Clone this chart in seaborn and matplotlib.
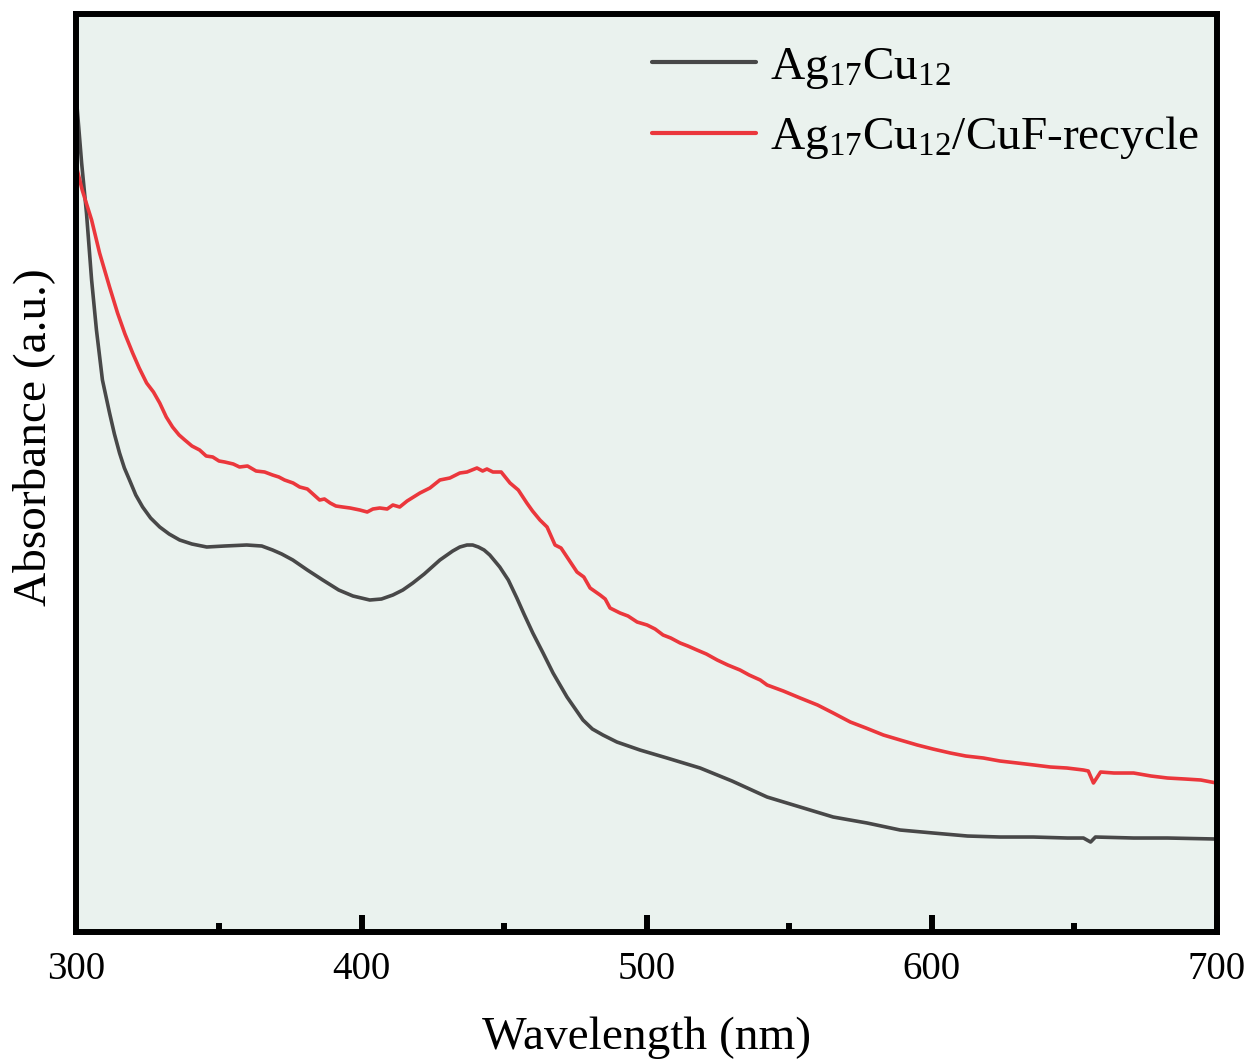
import numpy as np
import pandas as pd
import matplotlib
matplotlib.use("Agg")
import matplotlib.pyplot as plt
import seaborn as sns
from matplotlib.ticker import MultipleLocator

# UV-vis spectra (wavelength in nm, absorbance in arbitrary units)
wl_pristine = [300.0, 301.8, 303.5, 305.3, 307.0, 309.1, 311.6, 313.3, 315.1, 316.8,
               318.6, 320.8, 323.2, 326.0, 329.2, 332.5, 336.2, 340.5, 345.7, 352.0,
               359.7, 365.0, 368.8, 372.0, 375.9, 381.0, 386.4, 392.0, 397.0, 402.9,
               407.0, 411.0, 414.5, 418.0, 422.0, 427.5, 432.0, 434.5, 437.0, 439.0,
               441.0, 443.0, 445.0, 448.5, 451.5, 454.5, 457.0, 460.1, 463.7, 467.2,
               472.1, 477.7, 481.0, 484.7, 489.6, 497.7, 507.2, 518.8, 530.0, 542.3,
               553.9, 565.5, 577.4, 589.0, 600.6, 612.6, 624.1, 635.7, 647.7, 653.3,
               655.8, 657.5, 670.9, 682.8, 700.0]
abs_pristine = [8.32, 7.69, 7.19, 6.52, 6.02, 5.52, 5.19, 4.98, 4.79, 4.64,
                4.52, 4.37, 4.25, 4.14, 4.05, 3.98, 3.92, 3.88, 3.85, 3.86,
                3.87, 3.86, 3.82, 3.78, 3.72, 3.62, 3.52, 3.42, 3.36, 3.32,
                3.33, 3.37, 3.42, 3.49, 3.58, 3.72, 3.81, 3.85, 3.87, 3.87,
                3.85, 3.82, 3.77, 3.65, 3.52, 3.34, 3.18, 2.99, 2.79, 2.59,
                2.35, 2.12, 2.03, 1.97, 1.90, 1.82, 1.74, 1.64, 1.51, 1.35,
                1.25, 1.15, 1.09, 1.02, 0.99, 0.96, 0.95, 0.95, 0.94, 0.94,
                0.90, 0.95, 0.94, 0.94, 0.93]

wl_recycle = [300.0, 302.0, 305.3, 308.1, 311.6, 314.4, 317.0, 319.7, 322.0, 324.6,
              327.0, 329.2, 331.5, 333.7, 336.0, 338.0, 340.5, 343.2, 345.5, 347.8,
              350.0, 352.0, 355.0, 357.2, 360.0, 363.0, 366.0, 368.8, 371.0, 373.0,
              376.0, 378.3, 381.0, 385.3, 387.0, 389.0, 391.0, 393.4, 396.0, 399.4,
              402.0, 404.0, 406.4, 409.0, 411.0, 413.4, 416.0, 420.5, 424.0, 427.5,
              431.0, 434.5, 437.0, 440.5, 442.5, 444.0, 446.1, 449.0, 452.1, 455.0,
              458.0, 460.0, 462.6, 465.1, 467.9, 470.0, 472.1, 475.6, 478.0, 480.2,
              483.7, 485.5, 487.2, 490.7, 493.5, 496.7, 500.2, 503.0, 505.8, 508.5,
              511.8, 514.5, 517.7, 521.0, 524.8, 528.5, 532.8, 536.0, 539.9, 542.3,
              548.0, 553.9, 560.0, 565.5, 571.5, 577.0, 583.1, 589.0, 595.0, 600.5,
              606.6, 612.0, 618.2, 624.0, 630.1, 636.0, 641.7, 647.5, 653.3, 655.0,
              656.8, 659.3, 664.0, 670.9, 677.0, 682.8, 689.0, 694.5, 700.0]
abs_recycle = [7.65, 7.42, 7.12, 6.79, 6.45, 6.19, 5.98, 5.79, 5.64, 5.49,
               5.40, 5.29, 5.15, 5.05, 4.97, 4.92, 4.86, 4.82, 4.76, 4.75,
               4.71, 4.70, 4.68, 4.65, 4.66, 4.61, 4.60, 4.57, 4.55, 4.52,
               4.49, 4.45, 4.43, 4.32, 4.33, 4.29, 4.26, 4.25, 4.24, 4.22,
               4.20, 4.23, 4.24, 4.23, 4.27, 4.25, 4.31, 4.39, 4.44, 4.52,
               4.54, 4.59, 4.60, 4.64, 4.61, 4.63, 4.60, 4.60, 4.49, 4.42,
               4.29, 4.21, 4.12, 4.05, 3.87, 3.84, 3.75, 3.60, 3.55, 3.44,
               3.37, 3.33, 3.24, 3.19, 3.16, 3.10, 3.07, 3.03, 2.97, 2.94,
               2.89, 2.86, 2.82, 2.78, 2.72, 2.67, 2.62, 2.57, 2.52, 2.47,
               2.41, 2.34, 2.27, 2.19, 2.10, 2.04, 1.97, 1.92, 1.87, 1.83,
               1.79, 1.76, 1.74, 1.71, 1.69, 1.67, 1.65, 1.64, 1.62, 1.61,
               1.49, 1.60, 1.59, 1.59, 1.56, 1.54, 1.53, 1.52, 1.49]

label_pristine = r"Ag$\mathregular{_{17}}$Cu$\mathregular{_{12}}$"
label_recycle = r"Ag$\mathregular{_{17}}$Cu$\mathregular{_{12}}$/CuF-recycle"

df_pristine = pd.DataFrame({"Wavelength": wl_pristine, "Absorbance": abs_pristine})
df_recycle = pd.DataFrame({"Wavelength": wl_recycle, "Absorbance": abs_recycle})

sns.set_theme(style="ticks")
plt.rcParams["font.family"] = ["Liberation Serif", "DejaVu Serif"]
plt.rcParams["mathtext.fontset"] = "custom"
plt.rcParams["mathtext.rm"] = "Liberation Serif"
plt.rcParams["text.color"] = "black"
plt.rcParams["axes.labelcolor"] = "black"
plt.rcParams["xtick.color"] = "black"
plt.rcParams["xtick.labelcolor"] = "black"

fig = plt.figure(figsize=(12.52, 10.59), dpi=100)
ax = fig.add_axes([0.0611, 0.1199, 0.9106, 0.8669])
ax.set_facecolor("#EAF2EE")

sns.lineplot(data=df_pristine, x="Wavelength", y="Absorbance", ax=ax,
             color="#484848", linewidth=2.6, estimator=None, label=label_pristine)
sns.lineplot(data=df_recycle, x="Wavelength", y="Absorbance", ax=ax,
             color="#EB373C", linewidth=2.6, estimator=None, label=label_recycle)

ax.set_xlim(300, 700)
ax.set_ylim(0, 9.18)
ax.xaxis.set_major_locator(MultipleLocator(100))
ax.xaxis.set_minor_locator(MultipleLocator(50))

for side in ["left", "right", "top", "bottom"]:
    ax.spines[side].set_linewidth(4.3)
    ax.spines[side].set_color("black")

ax.tick_params(axis="x", which="major", direction="in", length=12, width=4.3,
               labelsize=28, pad=14, top=False, color="black", labelcolor="black")
ax.tick_params(axis="x", which="minor", direction="in", length=6.5, width=4.3,
               top=False, color="black")
ax.tick_params(axis="y", which="both", left=False, right=False, labelleft=False)

ax.set_xlabel("Wavelength (nm)", fontsize=34, labelpad=20, color="black")
ax.set_ylabel("Absorbance (a.u.)", fontsize=34, color="black")
ax.yaxis.set_label_coords(-0.019, 0.539)

leg = ax.legend(loc="upper left", bbox_to_anchor=(0.5208, 0.957),
                bbox_transform=fig.transFigure, frameon=False, fontsize=34,
                handlelength=2.2, handletextpad=0.3, labelspacing=0.5,
                borderpad=0, borderaxespad=0)
for text in leg.get_texts():
    text.set_color("black")
for line in leg.get_lines():
    line.set_linewidth(3.0)

fig.savefig("out.png", dpi=100)
